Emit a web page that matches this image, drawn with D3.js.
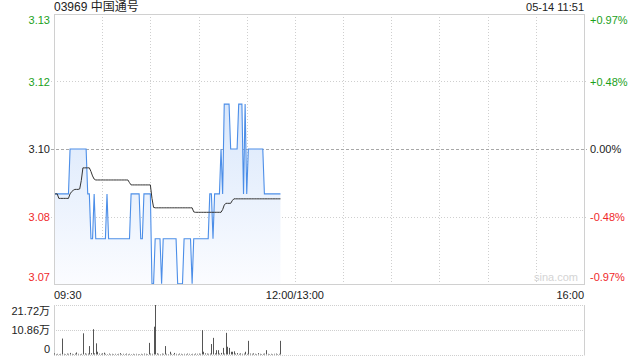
<!DOCTYPE html>
<html lang="zh">
<head>
  <meta charset="UTF-8" />
  <title>03969 中国通号</title>
  <script src="https://cdnjs.cloudflare.com/ajax/libs/d3/7.8.4/d3.min.js"></script>
  <style>
    body {
      margin: 0;
      padding: 0;
      background: #fff;
      overflow: hidden;
    }
    svg text {
      font-family: "Liberation Sans", Arial, "Noto Sans CJK SC", sans-serif;
      font-size: 11px;
    }
  </style>
</head>
<body>
  <svg width="640" height="360"></svg>
  <script>
    const title = "03969 中国通号";
    const stamp = "05-14 11:51";
    const prevClose = 3.10;

    // minute prices 09:30 .. 11:51
    const price = [
      3.09, 3.09, 3.09, 3.09, 3.09, 3.09, 3.09, 3.09, 3.09, 3.09,
      3.10, 3.10, 3.10, 3.10, 3.10, 3.10, 3.10, 3.10, 3.10, 3.10,
      3.10, 3.09, 3.09, 3.08, 3.08, 3.09, 3.08, 3.08, 3.08, 3.08,
      3.08, 3.08, 3.08, 3.09, 3.08, 3.08, 3.08, 3.08, 3.08, 3.08,
      3.08, 3.08, 3.08, 3.08, 3.08, 3.08, 3.08, 3.08, 3.09, 3.09,
      3.09, 3.09, 3.09, 3.09, 3.08, 3.08, 3.09, 3.09, 3.09, 3.09,
      3.09, 3.07, 3.07, 3.08, 3.08, 3.08, 3.08, 3.07, 3.08, 3.08,
      3.08, 3.08, 3.08, 3.08, 3.08, 3.08, 3.08, 3.07, 3.07, 3.07,
      3.07, 3.08, 3.08, 3.08, 3.08, 3.08, 3.07, 3.08, 3.08, 3.08,
      3.08, 3.08, 3.08, 3.08, 3.08, 3.08, 3.08, 3.09, 3.09, 3.08,
      3.09, 3.09, 3.09, 3.09, 3.10, 3.09, 3.11, 3.11, 3.11, 3.11,
      3.10, 3.10, 3.10, 3.10, 3.10, 3.11, 3.11, 3.11, 3.09, 3.11,
      3.09, 3.10, 3.10, 3.10, 3.10, 3.10, 3.10, 3.10, 3.10, 3.10,
      3.10, 3.09, 3.09, 3.09, 3.09, 3.09, 3.09, 3.09, 3.09, 3.09,
      3.09, 3.09
    ];

    // running average price
    const avg = [
      3.0900, 3.0900, 3.0900, 3.0890, 3.0890, 3.0890, 3.0890, 3.0890, 3.0890, 3.0890,
      3.0900, 3.0905, 3.0908, 3.0910, 3.0910, 3.0910, 3.0911, 3.0930, 3.0958, 3.0958,
      3.0958, 3.0958, 3.0958, 3.0950, 3.0940, 3.0933, 3.0931, 3.0931, 3.0931, 3.0931,
      3.0931, 3.0931, 3.0931, 3.0931, 3.0931, 3.0931, 3.0931, 3.0931, 3.0931, 3.0931,
      3.0931, 3.0931, 3.0931, 3.0931, 3.0931, 3.0931, 3.0931, 3.0925, 3.0920, 3.0920,
      3.0920, 3.0920, 3.0920, 3.0920, 3.0920, 3.0920, 3.0920, 3.0920, 3.0920, 3.0920,
      3.0920, 3.0890, 3.0870, 3.0869, 3.0869, 3.0869, 3.0869, 3.0869, 3.0869, 3.0869,
      3.0869, 3.0869, 3.0869, 3.0869, 3.0869, 3.0869, 3.0869, 3.0869, 3.0869, 3.0869,
      3.0869, 3.0869, 3.0869, 3.0869, 3.0869, 3.0869, 3.0869, 3.0860, 3.0859, 3.0859,
      3.0859, 3.0859, 3.0859, 3.0859, 3.0859, 3.0859, 3.0859, 3.0859, 3.0859, 3.0859,
      3.0859, 3.0859, 3.0859, 3.0859, 3.0859, 3.0865, 3.0875, 3.0879, 3.0879, 3.0879,
      3.0879, 3.0885, 3.0889, 3.0889, 3.0889, 3.0889, 3.0889, 3.0889, 3.0889, 3.0889,
      3.0889, 3.0889, 3.0889, 3.0889, 3.0889, 3.0889, 3.0889, 3.0889, 3.0889, 3.0889,
      3.0889, 3.0889, 3.0889, 3.0889, 3.0889, 3.0889, 3.0889, 3.0889, 3.0889, 3.0889,
      3.0889, 3.0889
    ];

    // minute volume, in 万 shares
    const volume = [
      0.5, 0.2, 0.3, 0.2, 0.3, 7.0, 0.3, 0.2, 0.4, 0.3,
      0.7, 0.3, 0.2, 0.4, 0.9, 0.3, 0.2, 0.3, 9.3, 0.5,
      0.3, 0.4, 3.7, 0.6, 11.1, 0.5, 4.9, 1.2, 0.4, 0.3,
      0.5, 0.8, 0.3, 0.2, 0.4, 0.2, 0.3, 0.2, 0.3, 0.2,
      0.3, 0.6, 0.2, 0.3, 0.2, 0.4, 0.2, 0.3, 0.2, 0.3,
      0.2, 0.3, 0.2, 0.2, 0.3, 0.2, 0.4, 0.3, 0.2, 5.1,
      0.4, 0.3, 12.2, 21.72, 0.5, 0.3, 0.2, 0.4, 0.3, 3.7,
      0.3, 0.2, 1.2, 0.3, 0.2, 0.7, 0.3, 0.2, 0.4, 0.3,
      0.2, 0.3, 0.2, 0.4, 0.3, 0.2, 0.3, 0.2, 0.4, 0.3,
      0.4, 0.3, 10.7, 1.2, 0.5, 0.4, 0.3, 0.4, 4.6, 7.3,
      0.5, 1.9, 1.9, 0.4, 0.7, 2.9, 0.4, 9.5, 3.4, 2.9,
      1.2, 1.2, 1.4, 0.4, 0.6, 0.3, 0.5, 0.3, 0.4, 1.2,
      0.3, 6.0, 0.4, 0.3, 0.5, 0.3, 0.2, 0.6, 0.3, 0.2,
      0.3, 0.4, 1.9, 0.3, 0.2, 0.3, 0.2, 0.3, 0.4, 0.2,
      0.3, 6.0
    ];

    const pctTicks = [0.97, 0.485, 0, -0.485, -0.97];
    const priceLabels = ["3.13", "3.12", "3.10", "3.08", "3.07"];
    const pctLabels = ["+0.97%", "+0.48%", "0.00%", "-0.48%", "-0.97%"];
    const timeLabels = ["09:30", "12:00/13:00", "16:00"];
    const timeLabelMin = [0, 150, 330];
    const volTicks = [21.72, 10.86, 0];
    const volLabels = ["21.72万", "10.86万", "0"];

    const green = "#1ba11b", red = "#f0282a";
    const plotL = 54, plotR = 584;
    const plotT = 14, plotB = 284;
    const volT = 305, volB = 354.5;

    const svg = d3.select("svg");

    const x = d3.scaleLinear().domain([0, 330]).range([plotL, plotR]);
    const pct = d3.scaleLinear().domain([-0.97, 0.97]).range([plotB, plotT]);
    const y = d3.scaleLinear()
      .domain([prevClose * (1 - 0.0097), prevClose * (1 + 0.0097)])
      .range([plotB, plotT]);
    const yv = d3.scaleLinear().domain([0, 21.72]).range([volB, volT]);

    const colorOf = v => v > 0 ? green : (v < 0 ? red : "#222");

    // gradient for the area under the price line
    const defs = svg.append("defs");
    const grad = defs.append("linearGradient")
      .attr("id", "fillGrad")
      .attr("gradientUnits", "userSpaceOnUse")
      .attr("x1", 0).attr("x2", 0)
      .attr("y1", y(3.11)).attr("y2", plotB);
    grad.append("stop").attr("offset", 0).attr("stop-color", "#d9e7fb");
    grad.append("stop").attr("offset", 1).attr("stop-color", "#fbfcff");

    // vertical grid, every 30 minutes
    const vgrid = d3.range(30, 330, 30);
    svg.append("g").selectAll("line")
      .data(vgrid)
      .enter().append("line")
      .attr("x1", d => Math.round(x(d)) + 0.5)
      .attr("x2", d => Math.round(x(d)) + 0.5)
      .attr("y1", plotT).attr("y2", plotB)
      .attr("stroke", "#cfcfcf")
      .attr("stroke-dasharray", "1,2");

    // horizontal grid
    svg.append("g").selectAll("line")
      .data(pctTicks.slice(1, 4))
      .enter().append("line")
      .attr("x1", plotL - 3).attr("x2", plotR + 3)
      .attr("y1", d => Math.round(pct(d)) + 0.5)
      .attr("y2", d => Math.round(pct(d)) + 0.5)
      .attr("stroke", d => d === 0 ? "#a8a8a8" : "#cfcfcf")
      .attr("stroke-dasharray", d => d === 0 ? "3,2" : "1,2");

    // watermark
    svg.append("text")
      .attr("x", plotR - 6).attr("y", plotB - 3)
      .attr("text-anchor", "end")
      .attr("fill", "#d4d4d4")
      .text("sina.com");

    // area + lines
    const area = d3.area()
      .x((d, i) => x(i))
      .y0(plotB)
      .y1(d => y(d));
    svg.append("path")
      .datum(price)
      .attr("d", area)
      .attr("fill", "url(#fillGrad)");

    svg.append("path")
      .datum(price)
      .attr("d", d3.line().x((d, i) => x(i)).y(d => y(d)))
      .attr("fill", "none")
      .attr("stroke", "#4c8ee8")
      .attr("stroke-width", 1.1);

    svg.append("path")
      .datum(avg)
      .attr("d", d3.line().x((d, i) => x(i)).y(d => y(d)))
      .attr("fill", "none")
      .attr("stroke", "#333")
      .attr("stroke-width", 1);

    // frame of price chart
    svg.append("rect")
      .attr("x", plotL + 0.5).attr("y", plotT + 0.5)
      .attr("width", plotR - plotL).attr("height", plotB - plotT)
      .attr("fill", "none")
      .attr("stroke", "#d0d0d0");

    // left / right labels
    svg.append("g").selectAll("text")
      .data(pctTicks)
      .enter().append("text")
      .attr("x", plotL - 4)
      .attr("y", (d, i) => pct(d) + (i === 0 ? 10 : i === 4 ? -3 : 4))
      .attr("text-anchor", "end")
      .attr("fill", d => colorOf(d))
      .text((d, i) => priceLabels[i]);

    svg.append("g").selectAll("text")
      .data(pctTicks)
      .enter().append("text")
      .attr("x", plotR + 6)
      .attr("y", (d, i) => pct(d) + (i === 0 ? 10 : i === 4 ? -3 : 4))
      .attr("text-anchor", "start")
      .attr("fill", d => colorOf(d))
      .text((d, i) => pctLabels[i]);

    // title and timestamp
    svg.append("text")
      .attr("x", plotL).attr("y", 11)
      .attr("fill", "#222")
      .style("font-size", "12px")
      .text(title);
    svg.append("text")
      .attr("x", plotR).attr("y", 11)
      .attr("text-anchor", "end")
      .attr("fill", "#222")
      .text(stamp);

    // time labels
    svg.append("g").selectAll("text")
      .data(timeLabelMin)
      .enter().append("text")
      .attr("x", d => x(d))
      .attr("y", 299)
      .attr("text-anchor", (d, i) => i === 0 ? "start" : i === 1 ? "middle" : "end")
      .attr("fill", "#222")
      .text((d, i) => timeLabels[i]);

    // volume chart grid
    svg.append("g").selectAll("line")
      .data(volTicks)
      .enter().append("line")
      .attr("x1", plotL).attr("x2", plotR)
      .attr("y1", d => Math.round(yv(d)) + 0.5)
      .attr("y2", d => Math.round(yv(d)) + 0.5)
      .attr("stroke", "#cfcfcf")
      .attr("stroke-dasharray", "1,1");

    svg.append("line")
      .attr("x1", plotL + 0.5).attr("x2", plotL + 0.5)
      .attr("y1", volT).attr("y2", volB + 1)
      .attr("stroke", "#d0d0d0");
    svg.append("line")
      .attr("x1", plotR + 0.5).attr("x2", plotR + 0.5)
      .attr("y1", volT).attr("y2", volB + 1)
      .attr("stroke", "#d0d0d0");

    svg.append("g").selectAll("rect")
      .data(volume)
      .enter().append("rect")
      .attr("x", (d, i) => Math.round(x(i)))
      .attr("width", 1)
      .attr("y", d => yv(d))
      .attr("height", d => volB - yv(d))
      .attr("fill", "#555");

    svg.append("g").selectAll("text")
      .data(volTicks)
      .enter().append("text")
      .attr("x", plotL - 4)
      .attr("y", (d, i) => yv(d) + (i === 0 ? 10 : i === 2 ? -2 : 4))
      .attr("text-anchor", "end")
      .attr("fill", "#222")
      .text((d, i) => volLabels[i]);
  </script>
</body>
</html>
